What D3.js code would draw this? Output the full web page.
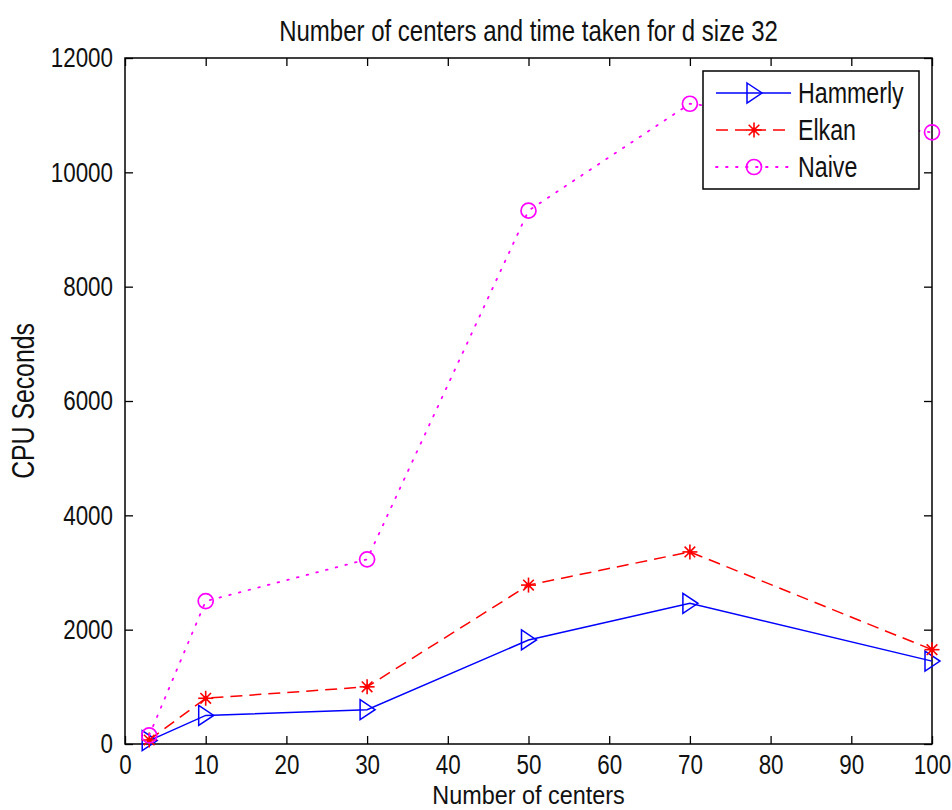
<!DOCTYPE html>
<html>
<head>
<meta charset="utf-8">
<script src="https://cdn.jsdelivr.net/npm/d3@7/dist/d3.min.js"></script>
<style>
  html, body { margin: 0; padding: 0; background: #fff; }
  svg { display: block; }
  text { font-family: "Liberation Sans", Arial, sans-serif; fill: #111; }
</style>
</head>
<body>
<svg id="chart" width="952" height="810"></svg>
<script>
// Number of centers (x) and CPU seconds per method
const centers = [3, 10, 30, 50, 70, 100];
const hammerly = [60, 500, 600, 1820, 2460, 1450];
const elkan = [70, 800, 1000, 2780, 3360, 1650];
const naive = [150, 2500, 3230, 9330, 11200, 10700];

const xTicks = [0, 10, 20, 30, 40, 50, 60, 70, 80, 90, 100];
const yTicks = [0, 2000, 4000, 6000, 8000, 10000, 12000];

const titleText = "Number of centers and time taken for d size 32";
const xLabel = "Number of centers";
const yLabel = "CPU Seconds";

const seriesNames = ["Hammerly", "Elkan", "Naive"];
const seriesValues = [hammerly, elkan, naive];

const styles = {
  Hammerly: { color: "#0000ff", dash: null, marker: "triangle" },
  Elkan: { color: "#ff0000", dash: "12,7", marker: "star" },
  Naive: { color: "#ff00ff", dash: "1.6,8.4", marker: "circle" }
};

const svg = d3.select("#chart");
const plotLeft = 125, plotRight = 932, plotTop = 58, plotBottom = 744;

const x = d3.scaleLinear().domain([0, 100]).range([plotLeft, plotRight]);
const y = d3.scaleLinear().domain([0, 12000]).range([plotBottom, plotTop]);

// Narrow lettering: glyphs are squeezed horizontally
const squeeze = 0.8;
const tickFont = 28;

// Axes box with inward ticks on all four sides
const tickLen = 8;
const axisBottom = d3.axisBottom(x).tickValues(xTicks).tickSize(-tickLen).tickPadding(10).tickFormat(d3.format("d"));
const axisLeft = d3.axisLeft(y).tickValues(yTicks).tickSize(-tickLen).tickPadding(12).tickFormat(d3.format("d"));
const axisTop = d3.axisTop(x).tickValues(xTicks).tickSize(-tickLen).tickFormat("");
const axisRight = d3.axisRight(y).tickValues(yTicks).tickSize(-tickLen).tickFormat("");

function styleAxis(g) {
  g.select(".domain").remove();
  g.selectAll(".tick line").attr("stroke", "#000").attr("stroke-width", 1.3);
  g.selectAll(".tick text")
    .attr("fill", "#111")
    .style("font-family", "'Liberation Sans', Arial, sans-serif")
    .style("font-size", tickFont + "px")
    .each(function () {
      const t = d3.select(this);
      const tx = +t.attr("x") || 0;
      t.attr("x", tx / squeeze).attr("transform", `scale(${squeeze},1)`);
    });
}

svg.append("g").attr("transform", `translate(0,${plotBottom})`).call(axisBottom).call(styleAxis);
svg.append("g").attr("transform", `translate(${plotLeft},0)`).call(axisLeft).call(styleAxis);
svg.append("g").attr("transform", `translate(0,${plotTop})`).call(axisTop).call(styleAxis);
svg.append("g").attr("transform", `translate(${plotRight},0)`).call(axisRight).call(styleAxis);

svg.append("rect")
  .attr("x", plotLeft).attr("y", plotTop)
  .attr("width", plotRight - plotLeft).attr("height", plotBottom - plotTop)
  .attr("fill", "none").attr("stroke", "#000").attr("stroke-width", 1.5);

// Marker shapes
function drawMarker(g, type, cx, cy, color) {
  if (type === "triangle") {
    g.append("path")
      .attr("d", `M${cx - 7},${cy - 10} L${cx + 8},${cy} L${cx - 7},${cy + 10} Z`)
      .attr("fill", "none").attr("stroke", color).attr("stroke-width", 1.5);
  } else if (type === "circle") {
    g.append("circle").attr("cx", cx).attr("cy", cy).attr("r", 7.5)
      .attr("fill", "none").attr("stroke", color).attr("stroke-width", 1.7);
  } else if (type === "star") {
    const r = 7.5;
    [0, 45, 90, 135].forEach(a => {
      const rad = a * Math.PI / 180;
      g.append("line")
        .attr("x1", cx - r * Math.cos(rad)).attr("y1", cy - r * Math.sin(rad))
        .attr("x2", cx + r * Math.cos(rad)).attr("y2", cy + r * Math.sin(rad))
        .attr("stroke", color).attr("stroke-width", 1.6);
    });
    g.append("circle").attr("cx", cx).attr("cy", cy).attr("r", 2.5).attr("fill", color);
  }
}

const line = d3.line().x(d => x(d[0])).y(d => y(d[1]));

seriesNames.forEach((name, i) => {
  const st = styles[name];
  const pts = centers.map((c, j) => [c, seriesValues[i][j]]);
  const g = svg.append("g");
  g.append("path")
    .datum(pts)
    .attr("d", line)
    .attr("fill", "none")
    .attr("stroke", st.color)
    .attr("stroke-width", st.marker === "circle" ? 1.8 : 1.5)
    .attr("stroke-dasharray", st.dash)
    .attr("stroke-linecap", st.marker === "circle" ? "round" : "butt");
  pts.forEach(p => drawMarker(g, st.marker, x(p[0]), y(p[1]), st.color));
});

// Squeezed text helper
function label(parent, tx, ty, str, size, anchor, rotate, sx) {
  return parent.append("text")
    .attr("transform", `translate(${tx},${ty})${rotate ? " rotate(" + rotate + ")" : ""} scale(${sx || squeeze},1)`)
    .attr("text-anchor", anchor)
    .style("font-size", size + "px")
    .text(str);
}

// Legend
const lg = svg.append("g");
const lx = 703, ly = 71, lw = 216, lh = 118;
lg.append("rect").attr("x", lx).attr("y", ly).attr("width", lw).attr("height", lh)
  .attr("fill", "#fff").attr("stroke", "#000").attr("stroke-width", 1.5);
seriesNames.forEach((name, i) => {
  const st = styles[name];
  const cy = ly + 22 + i * 37;
  lg.append("line").attr("x1", lx + 13).attr("x2", lx + 88).attr("y1", cy).attr("y2", cy)
    .attr("stroke", st.color).attr("stroke-width", st.marker === "circle" ? 1.8 : 1.5)
    .attr("stroke-dasharray", st.dash)
    .attr("stroke-linecap", st.marker === "circle" ? "round" : "butt");
  drawMarker(lg, st.marker, lx + 51, cy, st.color);
  label(lg, lx + 95, cy + 10, name, 29, "start");
});

// Title and axis labels
label(svg, (plotLeft + plotRight) / 2, 41, titleText, 30, "middle");
label(svg, (plotLeft + plotRight) / 2, 804, xLabel, 26, "middle", null, 0.9);
label(svg, 34, (plotTop + plotBottom) / 2, yLabel, 31, "middle", -90);
</script>
</body>
</html>
